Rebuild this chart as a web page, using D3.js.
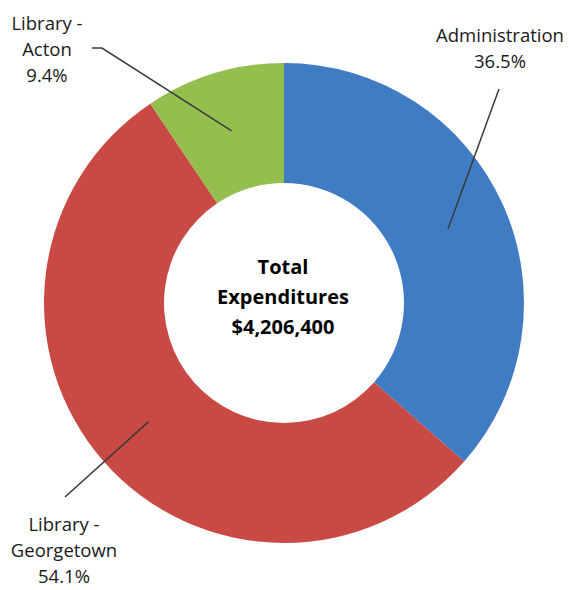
<!DOCTYPE html>
<html>
<head>
<meta charset="utf-8">
<script src="https://cdn.jsdelivr.net/npm/d3@7"></script>
<style>
  body { margin: 0; background: #fff; }
  svg { display: block; }
  text { font-family: "Open Sans", sans-serif; fill: #1a1a1a; }
</style>
</head>
<body>
<svg width="569" height="590"></svg>
<script>
// data
var categories = ["Administration", "Library - Georgetown", "Library - Acton"];
var amounts = [1535000, 2276000, 395400];
var percents = ["36.5%", "54.1%", "9.4%"];
var labelLines = [["Administration"], ["Library -", "Georgetown"], ["Library -", "Acton"]];
var centerLines = ["Total", "Expenditures", "$4,206,400"];

var colors = ["#3f7cc4", "#c94945", "#94bf4f"];

// label placement (x, first line y, leader start point)
var labelLayout = [
  {x: 500, y: 42, lx: 499, ly: 89, hook: 0},
  {x: 64, y: 531, lx: 65, ly: 497, hook: 0},
  {x: 47, y: 30, lx: 92, ly: 48, hook: 10}
];

var svg = d3.select("svg");
var cx = 284, cy = 303;
var outerR = 240, innerR = 120;

var g = svg.append("g").attr("transform", "translate(" + cx + "," + cy + ")");

var pie = d3.pie().sort(null).value(function(d) { return d; });
var arcs = pie(amounts);

var arc = d3.arc().innerRadius(innerR).outerRadius(outerR);

g.selectAll("path.slice")
  .data(arcs)
  .enter().append("path")
  .attr("class", "slice")
  .attr("d", arc)
  .attr("fill", function(d, i) { return colors[i]; });

// leader lines
arcs.forEach(function(a, i) {
  var c = arc.centroid(a);
  var L = labelLayout[i];
  var pts = [[L.lx - cx, L.ly - cy]];
  if (L.hook) pts.push([L.lx + L.hook - cx, L.ly - cy]);
  pts.push(c);
  g.append("path")
    .attr("d", d3.line()(pts))
    .attr("fill", "none")
    .attr("stroke", "#3a3a3a")
    .attr("stroke-width", 1.5);
});

// labels
labelLines.forEach(function(lines, i) {
  var L = labelLayout[i];
  var t = svg.append("text")
    .attr("text-anchor", "middle")
    .style("font-size", "18.5px");
  lines.concat([percents[i]]).forEach(function(s, k) {
    t.append("tspan")
      .attr("x", L.x)
      .attr("y", L.y + k * 26)
      .text(s);
  });
});

// center text
var ct = svg.append("text")
  .attr("text-anchor", "middle")
  .style("font-size", "20px")
  .style("font-weight", "bold")
  .style("fill", "#000");
centerLines.forEach(function(s, k) {
  ct.append("tspan")
    .attr("x", cx - 1)
    .attr("y", 274 + k * 30)
    .text(s);
});
</script>
</body>
</html>
